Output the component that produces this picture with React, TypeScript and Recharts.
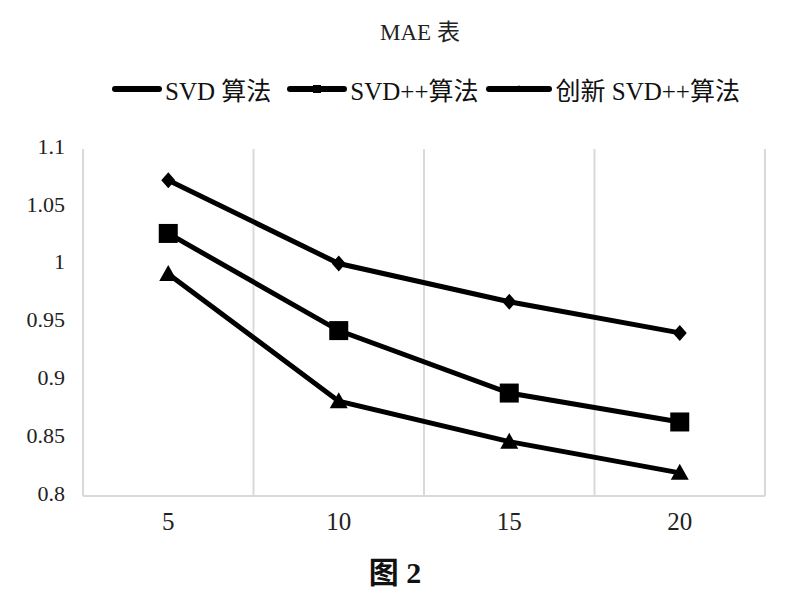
import { LineChart, Line, XAxis, YAxis, CartesianGrid } from 'recharts'

const xValues = [5, 10, 15, 20]
const svd = [1.073, 1.001, 0.968, 0.941]
const svdPlus = [1.027, 0.943, 0.889, 0.864]
const newSvdPlus = [0.992, 0.882, 0.847, 0.82]
const yTicks = [0.8, 0.85, 0.9, 0.95, 1, 1.05, 1.1]
const seriesNames = ['SVD 算法', 'SVD++算法', '创新 SVD++算法']

const data = xValues.map((k, i) => ({
  k,
  svd: svd[i],
  svdPlus: svdPlus[i],
  newSvdPlus: newSvdPlus[i],
}))

const FONT = "'Liberation Serif', 'Times New Roman', 'Noto Sans CJK SC', serif"
const GRID = '#d9d9d9'

const Diamond = ({ cx, cy }: any) => (
  <polygon points={`${cx},${cy - 8} ${cx + 7},${cy} ${cx},${cy + 8} ${cx - 7},${cy}`} fill="#000" />
)
const Square = ({ cx, cy }: any) => <rect x={cx - 9.5} y={cy - 9.5} width={19} height={19} fill="#000" />
const Triangle = ({ cx, cy }: any) => (
  <polygon points={`${cx},${cy - 9} ${cx + 9},${cy + 7} ${cx - 9},${cy + 7}`} fill="#000" />
)

// legend swatch: line length, gap after item
const legendLayout = [
  { len: 50, gap: 16 },
  { len: 60, gap: 8 },
  { len: 66, gap: 0 },
]

const legendMark = (i: number, c: number) => {
  if (i === 0) return <polygon points={`${c},4 ${c + 3},7 ${c},10 ${c - 3},7`} fill="#000" />
  if (i === 1) return <rect x={c - 4} y={3} width={8} height={8} fill="#000" />
  return <polygon points={`${c},3 ${c + 4},10 ${c - 4},10`} fill="#000" />
}

export default function App() {
  return (
    <div style={{ position: 'absolute', left: 0, top: 0, width: 800, height: 598, background: '#fff', fontFamily: FONT }}>
      <div style={{ position: 'absolute', top: 13, left: 0, width: 840, textAlign: 'center', fontSize: 23, color: '#222' }}>
        MAE 表
      </div>
      <div style={{ position: 'absolute', top: 71, left: 112, display: 'flex', alignItems: 'center', fontSize: 25, color: '#111' }}>
        {seriesNames.map((name, i) => (
          <div key={name} style={{ display: 'flex', alignItems: 'center', marginRight: legendLayout[i].gap }}>
            <svg width={legendLayout[i].len} height={14}>
              <line x1={3} y1={7} x2={legendLayout[i].len - 3} y2={7} stroke="#000" strokeWidth={6} strokeLinecap="round" />
              {legendMark(i, legendLayout[i].len / 2)}
            </svg>
            <span style={{ marginLeft: 3, whiteSpace: 'nowrap' }}>{name}</span>
          </div>
        ))}
      </div>
      <LineChart width={800} height={598} data={data} margin={{ top: 149, right: 35, left: 0, bottom: 0 }}>
        <CartesianGrid
          horizontal={false}
          stroke={GRID}
          strokeWidth={2}
          verticalCoordinatesGenerator={({ offset }: any) =>
            Array.from({ length: xValues.length + 1 }, (_, i) => offset.left + (offset.width * i) / xValues.length)
          }
        />
        <XAxis
          dataKey="k"
          type="number"
          domain={[2.5, 22.5]}
          ticks={xValues}
          height={102}
          axisLine={{ stroke: GRID, strokeWidth: 2 }}
          tickLine={false}
          tickSize={0}
          tickMargin={16}
          tick={{ fontSize: 25, fill: '#222', fontFamily: FONT }}
        />
        <YAxis
          width={83}
          domain={[0.8, 1.1]}
          ticks={yTicks}
          axisLine={false}
          tickLine={false}
          tickSize={0}
          tickMargin={18}
          tick={{ fontSize: 22, fill: '#222', fontFamily: FONT, dy: -3 }}
        />
        <Line dataKey="svd" name={seriesNames[0]} type="linear" stroke="#000" strokeWidth={5} dot={<Diamond />} isAnimationActive={false} />
        <Line dataKey="svdPlus" name={seriesNames[1]} type="linear" stroke="#000" strokeWidth={5} dot={<Square />} isAnimationActive={false} />
        <Line dataKey="newSvdPlus" name={seriesNames[2]} type="linear" stroke="#000" strokeWidth={5} dot={<Triangle />} isAnimationActive={false} />
      </LineChart>
      <div style={{ position: 'absolute', top: 548, left: 0, width: 790, textAlign: 'center', fontSize: 30, fontWeight: 'bold', color: '#111' }}>
        图 2
      </div>
    </div>
  )
}
